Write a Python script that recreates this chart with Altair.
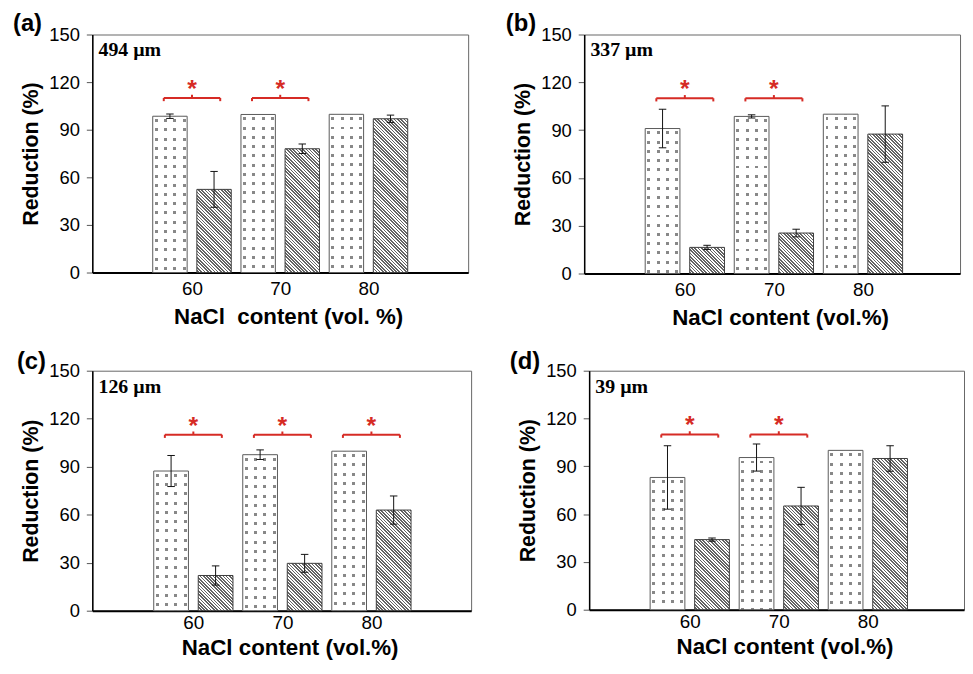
import altair as alt
import pandas as pd

# ---------------- data ----------------
CONTENT = [60, 70, 80]
PANEL_LABELS = ["(a)", "(b)", "(c)", "(d)"]
PORE_SIZES = ["494 µm", "337 µm", "126 µm", "39 µm"]
X_TITLES = ["NaCl\u00a0 content (vol. %)", "NaCl content (vol.%)",
            "NaCl content (vol.%)", "NaCl content (vol.%)"]
Y_TITLE = "Reduction (%)"
Y_TICKS = [0, 30, 60, 90, 120, 150]

DOTTED_A = [98.5, 99.6, 99.7]
DOTTED_ERR_A = [1.4, 0, 0]
HATCHED_A = [52.4, 78.0, 96.9]
HATCHED_ERR_A = [11.3, 3.0, 2.3]

DOTTED_B = [91.0, 98.6, 100.0]
DOTTED_ERR_B = [12.1, 1.0, 0]
HATCHED_B = [16.4, 25.4, 87.5]
HATCHED_ERR_B = [1.3, 2.4, 17.7]

DOTTED_C = [87.3, 97.5, 99.7]
DOTTED_ERR_C = [9.7, 3.0, 0]
HATCHED_C = [22.0, 29.6, 62.9]
HATCHED_ERR_C = [6.0, 5.6, 8.8]

DOTTED_D = [83.0, 95.5, 100.0]
DOTTED_ERR_D = [19.9, 8.5, 0]
HATCHED_D = [44.0, 65.1, 94.9]
HATCHED_ERR_D = [1.0, 11.7, 8.0]

SIGNIFICANT_A = [60, 70]
SIGNIFICANT_B = [60, 70]
SIGNIFICANT_C = [60, 70, 80]
SIGNIFICANT_D = [60, 70]

SERIES = [
    (DOTTED_A, DOTTED_ERR_A, HATCHED_A, HATCHED_ERR_A, SIGNIFICANT_A),
    (DOTTED_B, DOTTED_ERR_B, HATCHED_B, HATCHED_ERR_B, SIGNIFICANT_B),
    (DOTTED_C, DOTTED_ERR_C, HATCHED_C, HATCHED_ERR_C, SIGNIFICANT_C),
    (DOTTED_D, DOTTED_ERR_D, HATCHED_D, HATCHED_ERR_D, SIGNIFICANT_D),
]

# ---------------- layout / style ----------------
GEOM = [  # plot size, x-domain, title dx/offset, x-axis paddings
    dict(W=379, H=240, xmin=48.7, xmax=91.3, dx=-80, toff=-10, lp=7, tp=7),
    dict(W=379, H=241, xmin=48.7, xmax=90.9, dx=-79, toff=-10, lp=7, tp=7),
    dict(W=382, H=242, xmin=48.65, xmax=91.2, dx=-76, toff=-12, lp=3, tp=4),
    dict(W=378, H=241, xmin=48.7, xmax=90.8, dx=-80, toff=-12, lp=3, tp=4),
]
HALF_BAR = 1.95
RED = "#d62b25"
SANS = "Liberation Sans"
SERIF = "Liberation Serif"
CLEAR = "rgba(255,255,255,0)"


def r(v):
    return round(v, 5)


def band_stops(length, period, start, band, on, off):
    stops = [{"offset": 0, "color": off}]
    pos = start
    while pos < length:
        a = r(min(pos / length, 1))
        b = r(min((pos + band) / length, 1))
        stops += [{"offset": a, "color": off}, {"offset": a, "color": on},
                  {"offset": b, "color": on}, {"offset": b, "color": off}]
        pos += period
    stops.append({"offset": 1, "color": off})
    return stops


def hatch_gradient(w, h, period=3.3, dark="#646464"):
    lam = (w + h) / (w * w + h * h)
    L = w + h
    return {"gradient": "linear", "x1": 1, "y1": 0,
            "x2": r(1 - lam * w), "y2": r(lam * h),
            "stops": band_stops(L, period, 0, period * 0.5, dark, "white")}


def dot_cols_gradient(w):
    return {"gradient": "linear", "x1": 0, "y1": 0, "x2": 1, "y2": 0,
            "stops": band_stops(w, 9.3, 2.2, 3.0, "#888888", "white")}


def dot_rows_gradient(h):
    return {"gradient": "linear", "x1": 0, "y1": 0, "x2": 0, "y2": 1,
            "stops": band_stops(h, 9.3, 3.0, 3.0, CLEAR, "white")}


def panel(i):
    g = GEOM[i]
    W, H, xmin, xmax = g["W"], g["H"], g["xmin"], g["xmax"]
    dotted, dotted_err, hatched, hatched_err, sig = SERIES[i]
    ppu = W / (xmax - xmin)
    bar_w = 2 * HALF_BAR * ppu

    rows = []
    for s, vals, errs in (("dotted", dotted, dotted_err), ("hatched", hatched, hatched_err)):
        for c, v, e in zip(CONTENT, vals, errs):
            rows.append({"content": c, "series": s, "value": v, "err": e})
    df = pd.DataFrame(rows)
    sig_df = pd.DataFrame({"content": sig})

    xs = alt.Scale(domain=[xmin, xmax], nice=False, zero=False)
    ys = alt.Scale(domain=[0, 150], nice=False, zero=True)
    xax = alt.Axis(values=CONTENT, title=X_TITLES[i], grid=False, ticks=False, tickSize=0,
                   domainColor="black", domainWidth=2, labelFontSize=19, labelFont=SANS,
                   labelColor="black", labelPadding=g["lp"], titleFont=SANS, titleFontSize=22.5,
                   titleFontWeight="bold", titleColor="black", titlePadding=g["tp"],
                   titleX=W / 2 + 8, labelFlush=False)
    yax = alt.Axis(values=Y_TICKS, title=Y_TITLE, grid=False, tickSize=6, tickColor="#555",
                   domainColor="black", domainWidth=1.5, labelFontSize=18.5, labelFont=SANS,
                   labelColor="black", labelPadding=7, titleFont=SANS, titleFontSize=21.5,
                   titleFontWeight="bold", titleColor="black", titlePadding=6, format="d",
                   labelFlush=False)

    def X(f):
        return alt.X(f, type="quantitative", scale=xs, axis=xax)

    def Y(f):
        return alt.Y(f, type="quantitative", scale=ys, axis=yax)

    def XD(v):
        return alt.X(datum=v, type="quantitative", scale=xs, axis=xax)

    def YD(v):
        return alt.Y(datum=v, type="quantitative", scale=ys, axis=yax)

    def Y2D(v):
        return alt.Y2(datum=v)

    base = alt.Chart(df).transform_calculate(
        xc="datum.content + (datum.series == 'dotted' ? -2.5 : 2.5)"
    ).transform_calculate(
        xl=f"datum.xc - {HALF_BAR}", xr=f"datum.xc + {HALF_BAR}",
        lo="datum.value - datum.err", hi="datum.value + datum.err",
        cl="datum.xc - 0.42", cr="datum.xc + 0.42",
    )
    dots = base.transform_filter("datum.series == 'dotted'")
    hats = base.transform_filter("datum.series == 'hatched'")

    dot_conds = [{"test": f"datum.content == {c}", "value": dot_rows_gradient(v / 150 * H)}
                 for c, v in zip(CONTENT, dotted)]
    hat_conds = [{"test": f"datum.content == {c}", "value": hatch_gradient(bar_w, v / 150 * H)}
                 for c, v in zip(CONTENT, hatched)]

    layer_dot_base = dots.mark_rect(fill=dot_cols_gradient(bar_w), strokeWidth=0).encode(
        x=X("xl"), x2="xr", y=Y("value"), y2=Y2D(0))
    layer_dot_top = dots.mark_rect(stroke="#5a5a5a", strokeWidth=1).encode(
        x=X("xl"), x2="xr", y=Y("value"), y2=Y2D(0),
        fill=alt.FillValue(value="white", condition=dot_conds))
    layer_hatch = hats.mark_rect(stroke="#3c3c3c", strokeWidth=1).encode(
        x=X("xl"), x2="xr", y=Y("value"), y2=Y2D(0),
        fill=alt.FillValue(value="white", condition=hat_conds))

    errs = base.transform_filter("datum.err > 0")
    layer_err = errs.mark_rule(color="#111", strokeWidth=1).encode(
        x=X("xc"), y=Y("lo"), y2="hi")
    layer_cap_lo = errs.mark_rule(color="#111", strokeWidth=1).encode(
        x=X("cl"), x2="cr", y=Y("lo"))
    layer_cap_hi = errs.mark_rule(color="#111", strokeWidth=1).encode(
        x=X("cl"), x2="cr", y=Y("hi"))

    br = alt.Chart(sig_df).transform_calculate(
        bl="datum.content - 3.2", brr="datum.content + 3.2")
    rule_kw = dict(color=RED, strokeWidth=2)
    layer_br_h = br.mark_rule(**rule_kw).encode(x=X("bl"), x2="brr", y=YD(110))
    layer_br_l = br.mark_rule(**rule_kw).encode(x=X("bl"), y=YD(108.0), y2=Y2D(110))
    layer_br_r = br.mark_rule(**rule_kw).encode(x=X("brr"), y=YD(108.0), y2=Y2D(110))
    layer_br_c = br.mark_rule(**rule_kw).encode(x=X("content"), y=YD(110), y2=Y2D(112))
    layer_star = br.mark_text(text="*", color=RED, fontSize=25, fontWeight="bold", font=SANS,
                              baseline="alphabetic", align="center").encode(
        x=X("content"), y=YD(110.6))

    lab = alt.Chart(pd.DataFrame({"label": [PORE_SIZES[i]]})).mark_text(
        align="left", baseline="middle", font=SERIF, fontWeight="bold", fontSize=20,
        color="black").encode(x=XD(xmin + 0.7), y=YD(140), text="label:N")

    return alt.layer(
        layer_dot_base, layer_dot_top, layer_hatch, layer_err, layer_cap_lo, layer_cap_hi,
        layer_br_h, layer_br_l, layer_br_r, layer_br_c, layer_star, lab,
    ).properties(
        width=W, height=H,
        title=alt.TitleParams(PANEL_LABELS[i], anchor="start", frame="group", dx=g["dx"],
                              offset=g["toff"], fontSize=24, font=SANS, fontWeight="bold",
                              color="black"),
    )


chart = alt.vconcat(
    alt.hconcat(panel(0), panel(1), spacing=36),
    alt.hconcat(panel(2), panel(3), spacing=37),
    spacing=20,
).properties(
    padding={"left": 4, "top": 0, "right": 0, "bottom": 0},
    background="white",
).configure_view(stroke="#666666", strokeWidth=1)

chart.save("out.html", embed_options={"renderer": "svg", "actions": False})
